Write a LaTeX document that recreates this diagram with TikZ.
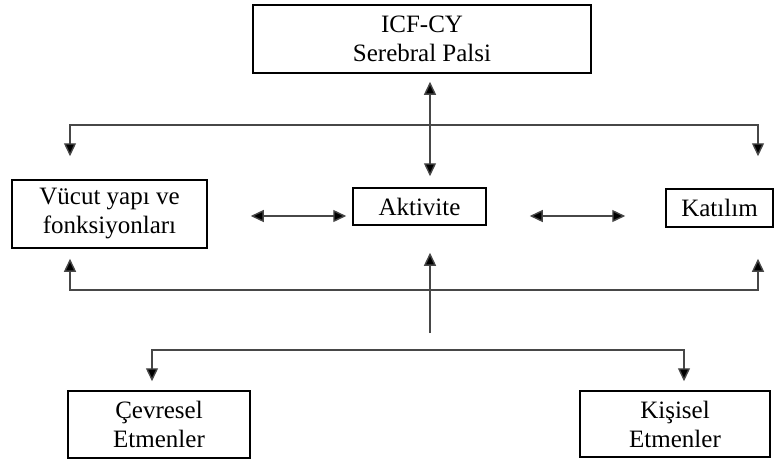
\documentclass[tikz,border=0pt]{standalone}
\usepackage{fontspec}
\setmainfont{Liberation Serif}
\usetikzlibrary{arrows.meta}

\begin{document}
\begin{tikzpicture}[x=1pt,y=-1pt,
  box/.style={draw=black,line width=1.5pt,align=center,inner sep=0pt,
    font=\fontsize{25}{29}\selectfont},
  conn/.style={draw=black!72,line width=1.4pt,
    arrows={-Triangle[length=13pt,width=12pt,fill=black]}},
  bothway/.style={conn,arrows={Triangle[length=13pt,width=12pt,fill=black]-Triangle[length=13pt,width=12pt,fill=black]}}
]
\useasboundingbox (0,0) rectangle (778,461);

% boxes
\node[box,minimum width=338pt,minimum height=68pt] (icf) at (422,39)
  {ICF-CY\\Serebral Palsi};
\node[box,minimum width=195pt,minimum height=68pt] (vucut) at (109.5,214)
  {Vücut yapı ve\\fonksiyonları};
\node[box,minimum width=133pt,minimum height=37pt] (akt) at (419.5,206.5)
  {Aktivite};
\node[box,minimum width=107pt,minimum height=38pt] (kat) at (719.5,208)
  {Katılım};
\node[box,minimum width=182pt,minimum height=67pt] (cev) at (159,424.5)
  {Çevresel\\Etmenler};
\node[box,minimum width=190pt,minimum height=66pt] (kis) at (675,424)
  {Kişisel\\Etmenler};

% helper coordinates for the bus lines
\coordinate (xC) at (430,0);
\coordinate (xL) at (70,0);
\coordinate (xR) at (758,0);
\coordinate (xBL) at (152,0);
\coordinate (xBR) at (684,0);
\coordinate (yM) at (0,216);
\coordinate (busT) at (430,125);
\coordinate (busB) at (430,290);
\coordinate (stem) at (430,333);
\coordinate (busC) at (430,350);

% ICF-CY <-> Aktivite
\draw[bothway] ([yshift=-8pt]icf.south -| xC) -- ([yshift=11pt]akt.north -| xC);

% upper bus down to the side boxes
\draw[conn] (busT) -| ([yshift=23pt]vucut.north -| xL);
\draw[conn] (busT) -| ([yshift=32pt]kat.north -| xR);

% horizontal interactions
\draw[bothway] ([xshift=43pt]vucut.east |- yM) -- ([xshift=-6pt]akt.west |- yM);
\draw[bothway] ([xshift=43pt]akt.east |- yM) -- ([xshift=-40pt]kat.west |- yM);

% lower bus up to the boxes
\draw[conn] (busB) -| ([yshift=-10pt]vucut.south -| xL);
\draw[conn] (busB) -| ([yshift=-31pt]kat.south -| xR);
\draw[conn] (stem) -- ([yshift=-27pt]akt.south -| xC);

% contextual factors branch
\draw[conn] (busC) -| ([yshift=9pt]cev.north -| xBL);
\draw[conn] (busC) -| ([yshift=9pt]kis.north -| xBR);
\end{tikzpicture}
\end{document}
